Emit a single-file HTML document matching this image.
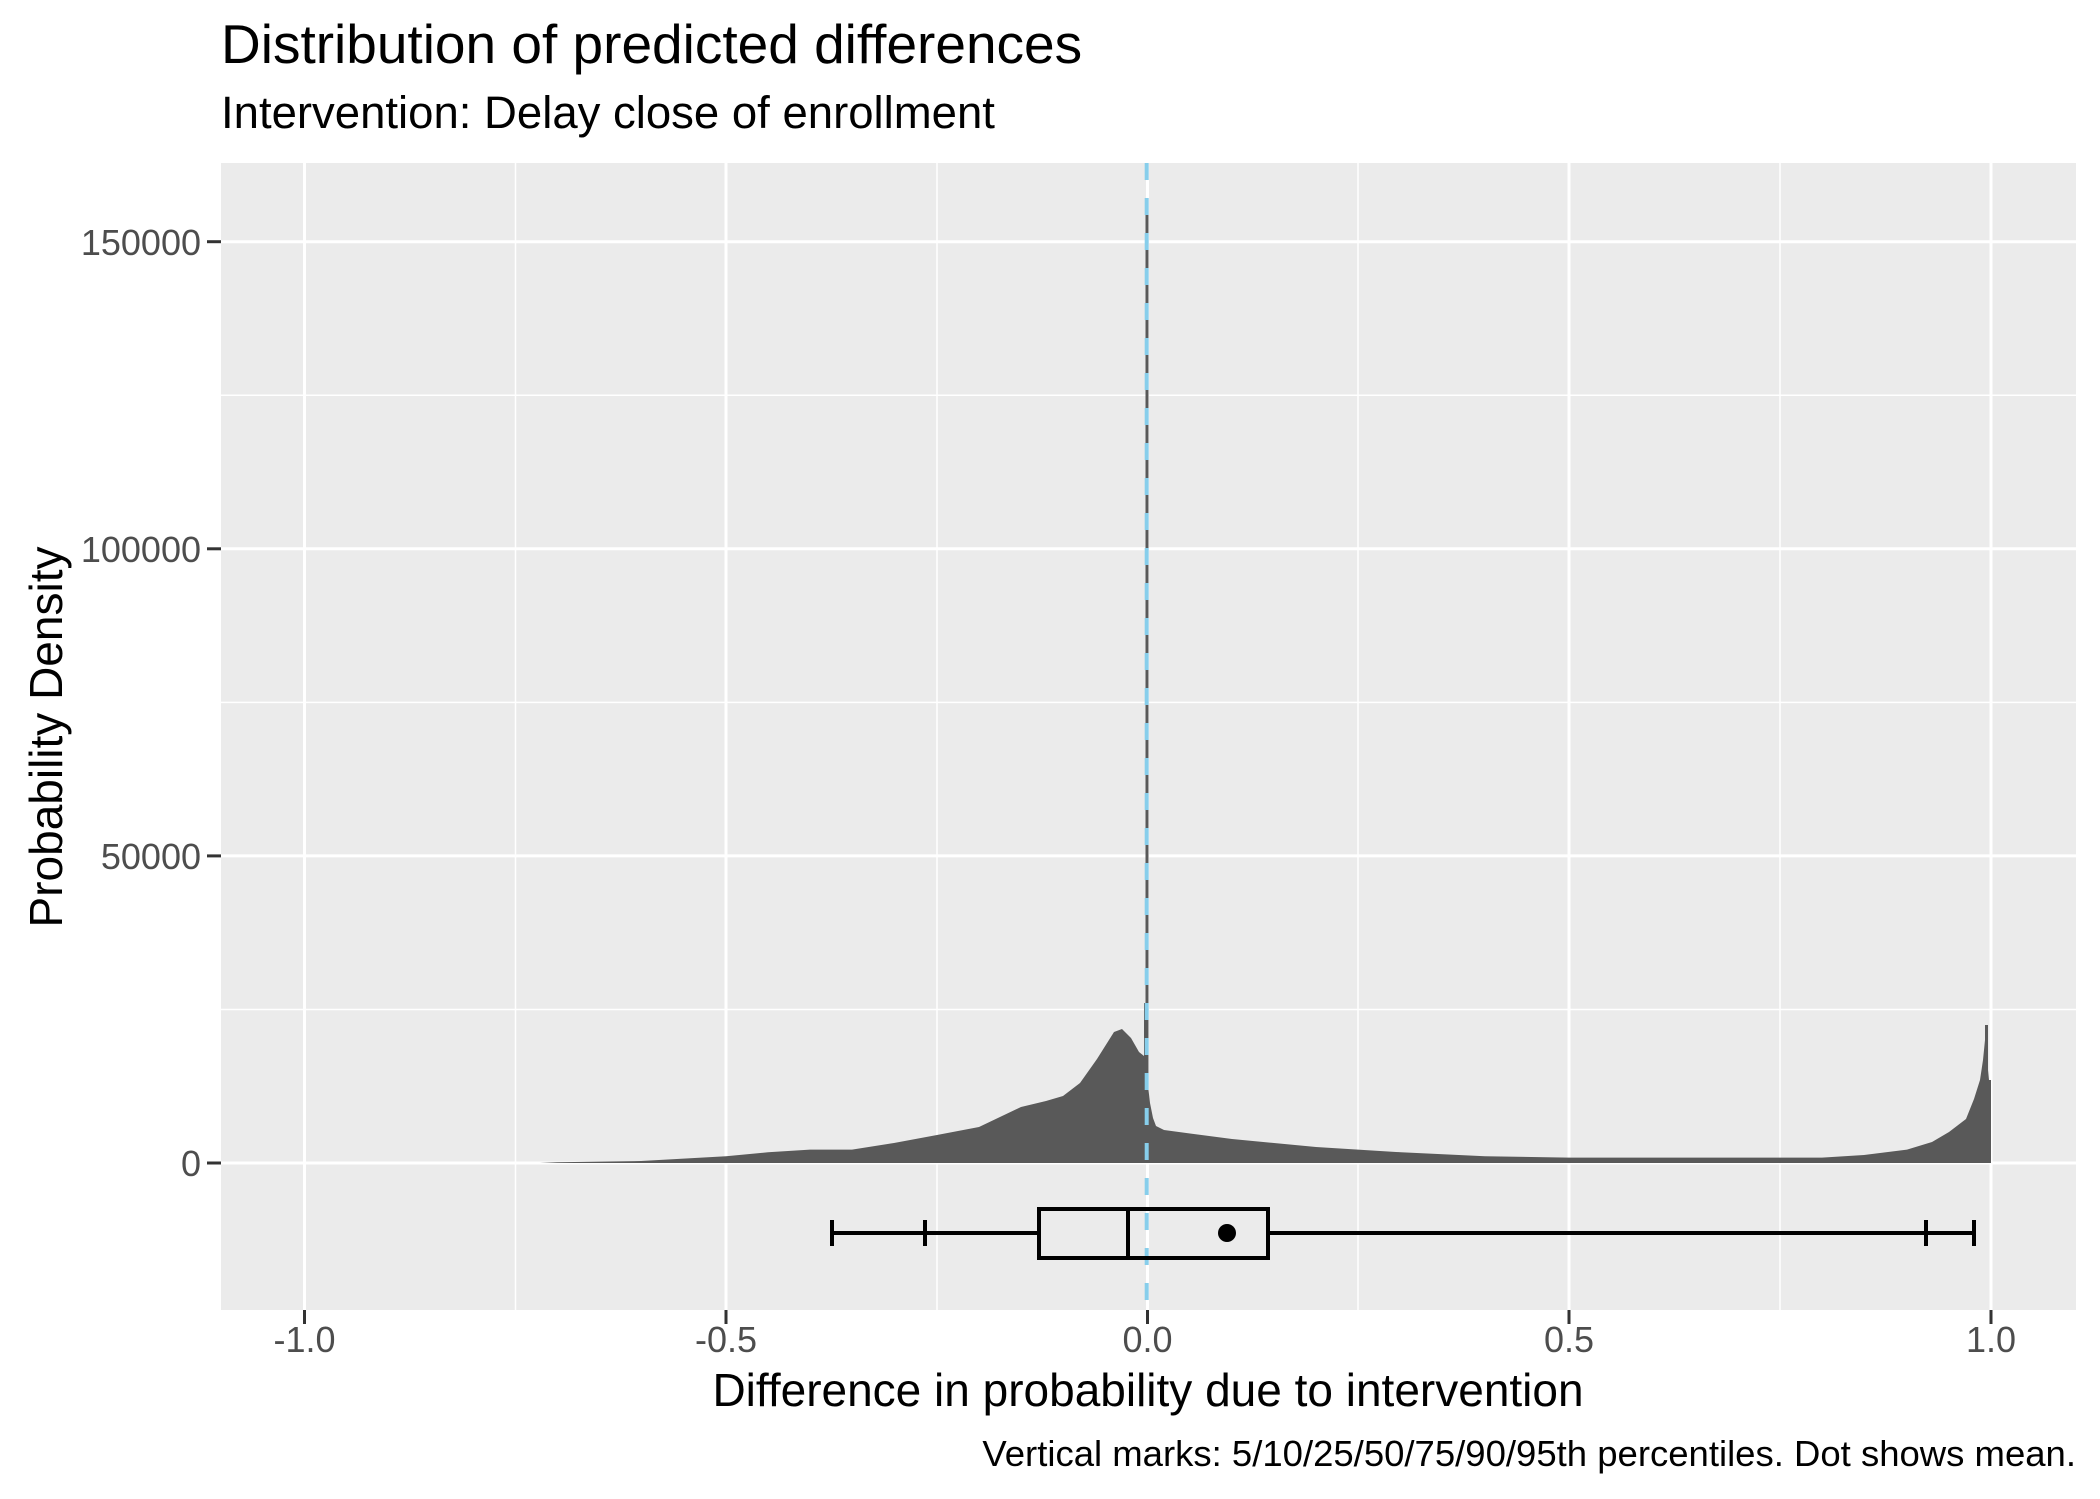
<!DOCTYPE html>
<html><head><meta charset="utf-8"><style>html,body{margin:0;padding:0;background:#fff}svg{display:block}</style></head>
<body>
<svg width="2100" height="1499" viewBox="0 0 2100 1499" xmlns="http://www.w3.org/2000/svg" font-family="Liberation Sans, sans-serif">
<rect width="2100" height="1499" fill="#fff"/>
<text x="221" y="63" font-size="55" fill="#000">Distribution of predicted differences</text>
<text x="221" y="128" font-size="45.5" fill="#000">Intervention: Delay close of enrollment</text>
<rect x="221" y="163" width="1855" height="1147" fill="#ebebeb"/>
<g stroke="#fff" stroke-width="1.5">
<line x1="221" x2="2076" y1="1009.5" y2="1009.5"/><line x1="221" x2="2076" y1="702.4" y2="702.4"/><line x1="221" x2="2076" y1="395.3" y2="395.3"/>
<line x1="515.5" x2="515.5" y1="163" y2="1310"/><line x1="937" x2="937" y1="163" y2="1310"/><line x1="1358" x2="1358" y1="163" y2="1310"/><line x1="1780" x2="1780" y1="163" y2="1310"/>
</g>
<g stroke="#fff" stroke-width="3">
<line x1="221" x2="2076" y1="1163" y2="1163"/><line x1="221" x2="2076" y1="855.9" y2="855.9"/><line x1="221" x2="2076" y1="548.8" y2="548.8"/><line x1="221" x2="2076" y1="241.7" y2="241.7"/>
<line x1="304.5" x2="304.5" y1="163" y2="1310"/><line x1="726" x2="726" y1="163" y2="1310"/><line x1="1147.5" x2="1147.5" y1="163" y2="1310"/><line x1="1569" x2="1569" y1="163" y2="1310"/><line x1="1991" x2="1991" y1="163" y2="1310"/>
</g>
<path fill="#595959" d="M540,1163 L557,1162.3 L641,1161 L726,1156.3 L768,1152.3 L810,1149.6 L852,1149.6 L894,1143 L937,1135 L979,1127 L1021,1107 L1046,1101 L1063,1096 L1080,1083 L1097,1059 L1114,1032 L1122,1029 L1131,1038 L1139,1052 L1144,1056 L1144,1003 L1145.5,1003 L1145.5,210 L1148.5,210 L1148.5,1090 L1150,1103 L1153,1118 L1156,1126 L1164,1130 L1190,1133.5 L1232,1139 L1274,1143 L1316,1147 L1401,1152.3 L1485,1156.3 L1569,1157.6 L1822,1157.6 L1864,1155 L1907,1149.6 L1932,1142 L1949,1132 L1966,1119 L1974,1099 L1980,1080 L1983,1060 L1985,1040 L1985,1025 L1988,1025 L1988,1070 L1989,1080 L1991,1080 L1991,1163 Z"/>
<line x1="1146.7" x2="1146.7" y1="163" y2="1310" stroke="#87ceeb" stroke-width="4" stroke-dasharray="17,18"/>
<g stroke="#000" stroke-width="4" fill="none">
<line x1="832" x2="1039" y1="1233" y2="1233"/><line x1="1268" x2="1974" y1="1233" y2="1233"/>
<line x1="832" x2="832" y1="1220" y2="1246"/><line x1="925" x2="925" y1="1220" y2="1246"/><line x1="1926" x2="1926" y1="1220" y2="1246"/><line x1="1974" x2="1974" y1="1220" y2="1246"/>
<rect x="1039" y="1209" width="229" height="49"/><line x1="1128" x2="1128" y1="1209" y2="1258"/>
</g>
<circle cx="1227" cy="1233" r="9" fill="#000"/>
<g stroke="#333" stroke-width="3">
<line x1="207" x2="221" y1="1163" y2="1163"/><line x1="207" x2="221" y1="855.9" y2="855.9"/><line x1="207" x2="221" y1="548.8" y2="548.8"/><line x1="207" x2="221" y1="241.7" y2="241.7"/>
<line x1="304.5" x2="304.5" y1="1310" y2="1324"/><line x1="726" x2="726" y1="1310" y2="1324"/><line x1="1147.5" x2="1147.5" y1="1310" y2="1324"/><line x1="1569" x2="1569" y1="1310" y2="1324"/><line x1="1991" x2="1991" y1="1310" y2="1324"/>
</g>
<g font-size="36" fill="#4d4d4d" text-anchor="end">
<text x="201" y="1176">0</text><text x="201" y="869">50000</text><text x="201" y="562">100000</text><text x="201" y="255">150000</text>
</g>
<g font-size="36" fill="#4d4d4d" text-anchor="middle">
<text x="304.5" y="1352">-1.0</text><text x="726" y="1352">-0.5</text><text x="1147.5" y="1352">0.0</text><text x="1569" y="1352">0.5</text><text x="1991" y="1352">1.0</text>
</g>
<text x="1148" y="1406" font-size="46" text-anchor="middle" fill="#000">Difference in probability due to intervention</text>
<text transform="translate(62,737) rotate(-90)" font-size="46" text-anchor="middle" fill="#000">Probability Density</text>
<text x="2076" y="1466" font-size="36.5" text-anchor="end" fill="#000">Vertical marks: 5/10/25/50/75/90/95th percentiles. Dot shows mean.</text>
</svg>
</body></html>
